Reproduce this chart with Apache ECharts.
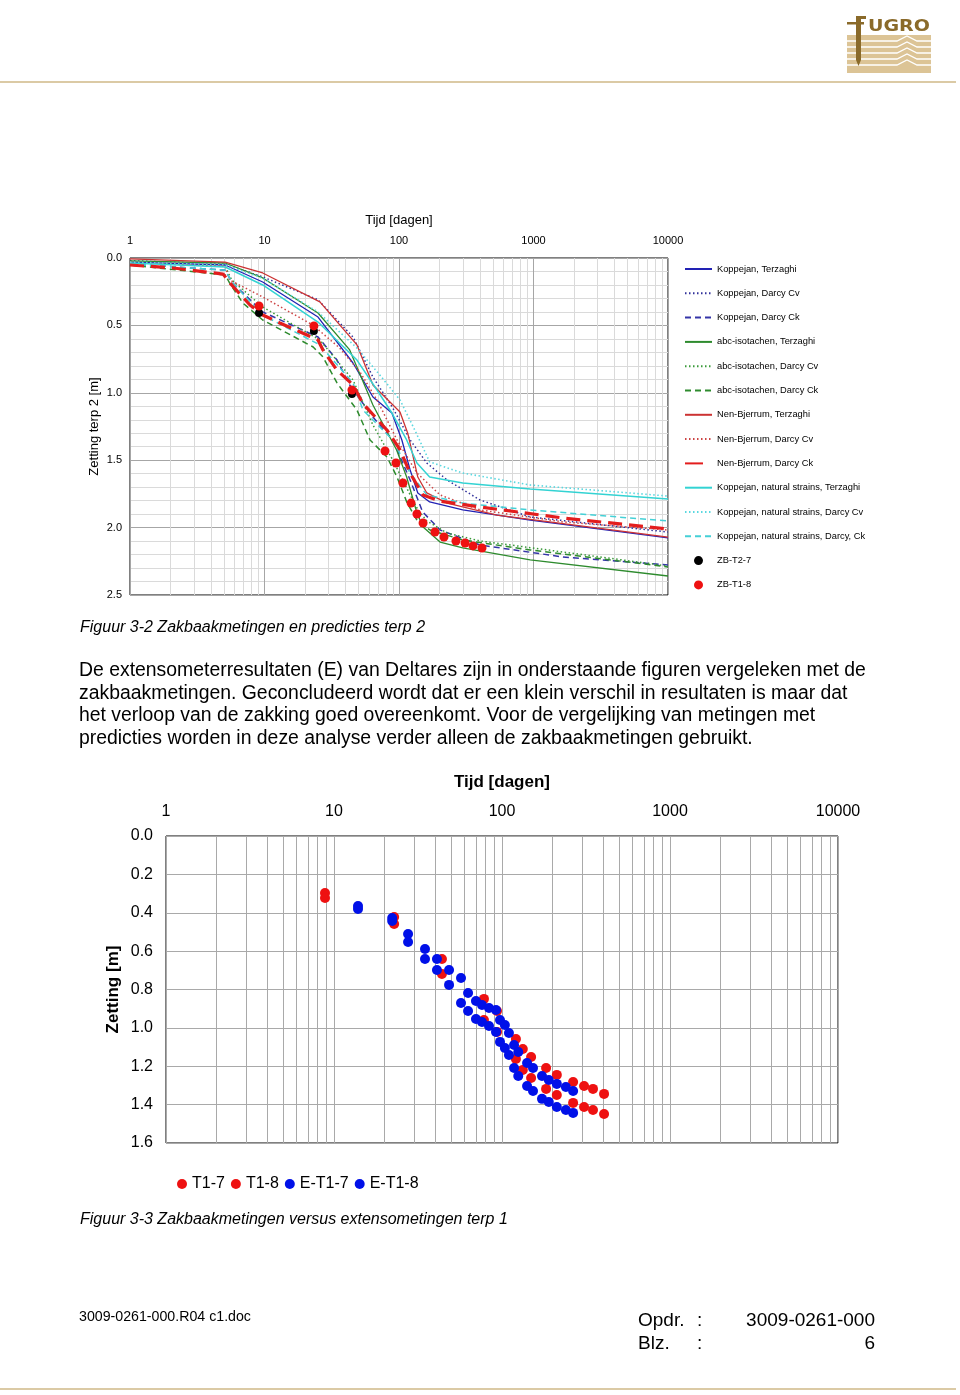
<!DOCTYPE html>
<html><head><meta charset="utf-8">
<script src="https://cdn.jsdelivr.net/npm/echarts@6/dist/echarts.min.js"></script>
<style>
html,body{margin:0;padding:0;background:#fff;}
#page{position:relative;width:960px;height:1395px;overflow:hidden;font-family:"Liberation Sans",Arial,sans-serif;color:#000;}
#chart{position:absolute;left:0;top:0;width:960px;height:1395px;}
.t{position:absolute;white-space:nowrap;}
.rule{position:absolute;left:0;width:956px;height:2px;background:#dbcaa5;}
</style></head>
<body><div id="page">
<div id="chart"></div>
<div class="rule" style="top:81px"></div>
<div class="rule" style="top:1388px"></div>
<svg style="position:absolute;left:845px;top:10px" width="90" height="66" viewBox="0 0 90 66">
  <rect x="2" y="25" width="84" height="38" fill="#dcc496"/>
  <g stroke="#fff" stroke-width="1.3" fill="none">
    <polyline points="2,31 52,31 62,26 72,31 86,31"/>
    <polyline points="2,37 52,37 62,32 72,37 86,37"/>
    <polyline points="2,43 52,43 62,38 72,43 86,43"/>
    <polyline points="2,49 52,49 62,44 72,49 86,49"/>
    <polyline points="2,55 52,55 62,50 72,55 86,55"/>
  </g>
  <rect x="2" y="12" width="14" height="2.5" fill="#8a6a2a"/>
  <rect x="11" y="6" width="5" height="44" fill="#8a6a2a"/>
  <rect x="11" y="6" width="10" height="3" fill="#8a6a2a"/>
  <rect x="11" y="12" width="8" height="2.5" fill="#8a6a2a"/>
  <polygon points="11,50 16,50 13.5,56" fill="#8a6a2a"/>
  <text x="23" y="21" font-family="DejaVu Sans, Arial" font-weight="bold" font-size="16" fill="#8a6a2a" textLength="62" lengthAdjust="spacingAndGlyphs">UGRO</text>
</svg>
<div class="t" style="left:80px;top:618px;font-size:16px;line-height:18px;font-style:italic;">Figuur 3-2 Zakbaakmetingen en predicties terp 2</div>
<div class="t" style="left:79px;top:658px;font-size:19.4px;line-height:22.7px;">De extensometerresultaten (E) van Deltares zijn in onderstaande figuren vergeleken met de<br>zakbaakmetingen. Geconcludeerd wordt dat er een klein verschil in resultaten is maar dat<br>het verloop van de zakking goed overeenkomt. Voor de vergelijking van metingen met<br>predicties worden in deze analyse verder alleen de zakbaakmetingen gebruikt.</div>
<div class="t" style="left:80px;top:1210px;font-size:16px;line-height:18px;font-style:italic;">Figuur 3-3 Zakbaakmetingen versus extensometingen terp 1</div>
<div class="t" style="left:79px;top:1308px;font-size:14.2px;line-height:16px;">3009-0261-000.R04 c1.doc</div>
<div class="t" style="left:638px;top:1308px;font-size:19px;line-height:23px;">Opdr.</div>
<div class="t" style="left:697px;top:1308px;font-size:19px;line-height:23px;">:</div>
<div class="t" style="left:700px;top:1308px;width:175px;text-align:right;font-size:19px;line-height:23px;">3009-0261-000</div>
<div class="t" style="left:638px;top:1331px;font-size:19px;line-height:23px;">Blz.</div>
<div class="t" style="left:697px;top:1331px;font-size:19px;line-height:23px;">:</div>
<div class="t" style="left:700px;top:1331px;width:175px;text-align:right;font-size:19px;line-height:23px;">6</div>
</div>
<script>
// ---------- Top chart (Figuur 3-2): [tijd (dagen), zetting (m)] ----------
const koppejanTerzaghi = [[1,0.03],[5.1,0.052],[9.7,0.178],[25,0.438],[45.5,0.779],[64,1.031],[88.6,1.15],[105,1.35],[121,1.573],[138,1.743],[169,1.81],[298,1.869],[945,1.944],[10000,2.077]];
const koppejanDarcyCv = [[1,0.02],[5.1,0.045],[9.7,0.14],[25,0.31],[45.5,0.586],[64,0.883],[90,1.113],[121,1.35],[161,1.521],[228,1.647],[400,1.795],[945,1.921],[10000,2.033]];
const koppejanDarcyCk = [[1,0.045],[5.1,0.09],[5.7,0.178],[9.7,0.4],[25,0.586],[34.6,0.757],[43,0.942],[64,1.18],[90,1.35],[121,1.647],[150,1.884],[202,2.018],[400,2.129],[1656,2.218],[10000,2.277]];
const abcTerzaghi = [[1,0.022],[5.1,0.037],[9.7,0.148],[25,0.408],[43,0.682],[64,1.091],[96,1.424],[114,1.625],[136,1.892],[151,1.996],[202,2.107],[298,2.151],[945,2.24],[10000,2.359]];
const abcDarcyCv = [[1,0.03],[5.1,0.06],[5.7,0.163],[9.7,0.364],[25.8,0.608],[45.5,0.905],[64,1.239],[90,1.499],[114,1.706],[136,1.855],[161,1.951],[228,2.04],[400,2.099],[10000,2.285]];
const abcDarcyCk = [[1,0.052],[5.1,0.126],[5.5,0.185],[6.9,0.334],[9.7,0.46],[23,0.66],[27.2,0.734],[34.6,0.927],[48.7,1.128],[60.9,1.35],[81.4,1.476],[96.7,1.625],[115,1.818],[136,1.944],[170,2.018],[298,2.092],[945,2.166],[10000,2.292]];
const nbTerzaghi = [[1,0.007],[5.1,0.03],[9.7,0.111],[25.8,0.326],[48.7,0.645],[64,0.942],[101.7,1.142],[116,1.298],[138,1.625],[161,1.743],[228,1.818],[535,1.907],[10000,2.07]];
const nbDarcyCv = [[1,0.03],[5.1,0.06],[5.5,0.163],[9.7,0.289],[22.9,0.497],[36.2,0.668],[51.3,0.846],[68.6,1.053],[96.7,1.35],[136,1.595],[202,1.758],[400,1.869],[1656,1.958],[10000,2.018]];
const nbDarcyCk = [[1,0.052],[2.09,0.074],[4.92,0.119],[5.53,0.185],[7.8,0.349],[9.7,0.423],[13,0.482],[25,0.608],[27.2,0.682],[34.5,0.831],[45.6,0.942],[53.6,1.076],[81.3,1.276],[101.9,1.424],[120.7,1.595],[150.6,1.758],[201,1.803],[399,1.847],[1660,1.929],[10000,2.01]];
const knsTerzaghi = [[1,0.037],[5.1,0.067],[9.7,0.2],[25,0.475],[48.7,0.757],[68.6,0.979],[88.6,1.15],[114,1.35],[136,1.521],[169,1.625],[298,1.669],[945,1.714],[10000,1.788]];
const knsDarcyCv = [[1,0.03],[5.1,0.05],[9.7,0.15],[25,0.4],[48.7,0.668],[72,0.868],[101.7,1.053],[131,1.276],[169,1.513],[298,1.595],[945,1.684],[10000,1.766]];
const knsDarcyCk = [[1,0.045],[5.1,0.09],[5.7,0.178],[9.7,0.423],[25.8,0.645],[45.5,0.927],[54,1.128],[90,1.35],[121,1.595],[161,1.758],[298,1.818],[945,1.869],[10000,1.951]];
const zbT27 = [[9.1,0.408],[23.3,0.542],[44.7,1.009]];
const zbT18 = [[9.1,0.356],[23.3,0.504],[44.7,0.979],[78.7,1.432],[95,1.521],[107,1.669],[123,1.818],[136,1.899],[151,1.966],[185,2.033],[216,2.07],[265,2.099],[310,2.114],[355,2.136],[414,2.151]];
const topNames = ['Koppejan, Terzaghi','Koppejan, Darcy Cv','Koppejan, Darcy Ck','abc-isotachen, Terzaghi','abc-isotachen, Darcy Cv','abc-isotachen, Darcy Ck','Nen-Bjerrum, Terzaghi','Nen-Bjerrum, Darcy Cv','Nen-Bjerrum, Darcy Ck','Koppejan, natural strains, Terzaghi','Koppejan, natural strains, Darcy Cv','Koppejan, natural strains, Darcy, Ck','ZB-T2-7','ZB-T1-8'];
const topYTicks = [0, 0.5, 1.0, 1.5, 2.0, 2.5];

// ---------- Bottom chart (Figuur 3-3) ----------
const zakbaakTijd = [8.84, 22.8, 43.9, 78.1, 93.4, 121, 133, 149, 183, 212, 265, 308, 348, 405];
const t17 = [0.297, 0.422, 0.641, 0.849, 0.912, 1.058, 1.110, 1.152, 1.209, 1.245, 1.282, 1.303, 1.318, 1.344];
const t18 = [0.323, 0.459, 0.719, 0.959, 1.021, 1.162, 1.219, 1.261, 1.318, 1.350, 1.391, 1.412, 1.428, 1.449];
const extTijd = [13.9, 22.2, 27.6, 34.8, 41.0, 48.4, 57.0, 62.8, 70.0, 76.0, 83.7, 92.1, 97.3, 104, 110, 118, 125, 141, 153, 173, 190, 212, 240, 265];
const eT17 = [0.365,0.427,0.511,0.589,0.641,0.698,0.740,0.818,0.860,0.881,0.896,0.907,0.959,0.985,1.027,1.089,1.126,1.183,1.209,1.251,1.272,1.292,1.308,1.329];
const eT18 = [0.380,0.443,0.552,0.641,0.698,0.776,0.870,0.912,0.954,0.969,0.990,1.021,1.073,1.105,1.141,1.209,1.251,1.303,1.329,1.370,1.386,1.412,1.428,1.443];
const bottomNames = ['T1-7','T1-8','E-T1-7','E-T1-8'];

const FONT = '"Liberation Sans", Arial, sans-serif';
const logMinor = [];
[1,10,100,1000].forEach(d => { for (let k = 2; k <= 9; k++) logMinor.push(k*d); });

function lineSeries(name, data, color, type, width, z) {
  return { name, type:'line', data, xAxisIndex:0, yAxisIndex:0, symbol:'none', showSymbol:false,
    lineStyle:{color, type, width}, itemStyle:{color}, z: z || 2, emphasis:{disabled:true}, animation:false };
}
const dot = [1.5, 2.5];
const topSeries = [
  lineSeries(topNames[0], koppejanTerzaghi, '#2222b4', 'solid', 1.3),
  lineSeries(topNames[1], koppejanDarcyCv, '#30309a', dot, 1.5),
  lineSeries(topNames[2], koppejanDarcyCk, '#3535a8', [6,4], 1.5),
  lineSeries(topNames[3], abcTerzaghi, '#2e8b2e', 'solid', 1.3),
  lineSeries(topNames[4], abcDarcyCv, '#3a9a3a', dot, 1.5),
  lineSeries(topNames[5], abcDarcyCk, '#2e8b2e', [6,4], 1.5),
  lineSeries(topNames[6], nbTerzaghi, '#cc3333', 'solid', 1.3),
  lineSeries(topNames[7], nbDarcyCv, '#cc4444', dot, 1.5),
  lineSeries(topNames[8], nbDarcyCk, '#e31d1d', [14,7], 3.2, 3),
  lineSeries(topNames[9], knsTerzaghi, '#33d3d3', 'solid', 1.5),
  lineSeries(topNames[10], knsDarcyCv, '#5ad8e0', dot, 1.6),
  lineSeries(topNames[11], knsDarcyCk, '#45d0d6', [6,4], 1.5),
  { name: topNames[12], type:'scatter', data: zbT27, xAxisIndex:0, yAxisIndex:0, symbolSize:8, itemStyle:{color:'#000', opacity:1}, z:4, animation:false },
  { name: topNames[13], type:'scatter', data: zbT18, xAxisIndex:0, yAxisIndex:0, symbolSize:9, itemStyle:{color:'#ee1111', opacity:1}, z:5, animation:false },
  { name:'_gridTop', type:'line', data:[], xAxisIndex:0, yAxisIndex:0, silent:true, animation:false,
    markLine:{ silent:true, symbol:['none','none'], label:{show:false}, z:1, animation:false, emphasis:{disabled:true},
      lineStyle:{color:'#dadada', type:'solid', width:1}, data: logMinor.map(v => ({xAxis:v})) } }
];
const bottomSeries = [
  { name: bottomNames[0], type:'scatter', xAxisIndex:1, yAxisIndex:1, data: zakbaakTijd.map((t,i)=>[t,t17[i]]), symbolSize:10, itemStyle:{color:'#ee1111', opacity:1}, z:2, animation:false },
  { name: bottomNames[1], type:'scatter', xAxisIndex:1, yAxisIndex:1, data: zakbaakTijd.map((t,i)=>[t,t18[i]]), symbolSize:10, itemStyle:{color:'#ee1111', opacity:1}, z:2, animation:false },
  { name: bottomNames[2], type:'scatter', xAxisIndex:1, yAxisIndex:1, data: extTijd.map((t,i)=>[t,eT17[i]]), symbolSize:10, itemStyle:{color:'#0010e8', opacity:1}, z:3, animation:false },
  { name: bottomNames[3], type:'scatter', xAxisIndex:1, yAxisIndex:1, data: extTijd.map((t,i)=>[t,eT18[i]]), symbolSize:10, itemStyle:{color:'#0010e8', opacity:1}, z:3, animation:false },
  { name:'_gridBottom', type:'line', data:[], xAxisIndex:1, yAxisIndex:1, silent:true, animation:false,
    markLine:{ silent:true, symbol:['none','none'], label:{show:false}, z:1, animation:false, emphasis:{disabled:true},
      lineStyle:{color:'#a9a9a9', type:'solid', width:1}, data: logMinor.map(v => ({xAxis:v})) } }
];

const hiddenSymbol = {opacity:0, color:'rgba(0,0,0,0)', borderWidth:0};
const chart = echarts.init(document.getElementById('chart'));
chart.setOption({
  animation:false,
  textStyle:{fontFamily:FONT, color:'#000'},
  grid:[
    {left:130, top:258, width:538, height:337, show:true, borderColor:'#000', borderWidth:1, backgroundColor:'#fff', z:0},
    {left:166, top:836, width:672, height:307, show:true, borderColor:'#000', borderWidth:1, backgroundColor:'#fff', z:0}
  ],
  xAxis:[
    { gridIndex:0, type:'log', logBase:10, min:1, max:10000, position:'top',
      name:'Tijd [dagen]', nameLocation:'middle', nameGap:31, nameTextStyle:{fontSize:13, color:'#000', fontFamily:FONT},
      axisLine:{show:false}, axisTick:{show:false},
      axisLabel:{fontSize:11, color:'#000', margin:12, fontFamily:FONT, formatter:v=>String(Math.round(v))},
      splitLine:{show:true, lineStyle:{color:'#a6a6a6', width:1}} },
    { gridIndex:1, type:'log', logBase:10, min:1, max:10000, position:'top',
      name:'Tijd [dagen]', nameLocation:'middle', nameGap:45, nameTextStyle:{fontSize:17, fontWeight:'bold', color:'#000', fontFamily:FONT},
      axisLine:{show:false}, axisTick:{show:false},
      axisLabel:{fontSize:16, color:'#000', margin:16, fontFamily:FONT, formatter:v=>String(Math.round(v))},
      splitLine:{show:true, lineStyle:{color:'#a9a9a9', width:1}} }
  ],
  yAxis:[
    { gridIndex:0, type:'value', min:topYTicks[0], max:topYTicks[topYTicks.length-1], interval:0.5, inverse:true,
      name:'Zetting terp 2 [m]', nameLocation:'middle', nameGap:29.5, nameRotate:90, nameMoveOverlap:false,
      nameTextStyle:{fontSize:13, color:'#000', fontFamily:FONT},
      axisLine:{show:false}, axisTick:{show:false},
      axisLabel:{fontSize:11, color:'#000', margin:8, fontFamily:FONT, formatter:v=>v.toFixed(1)},
      splitLine:{show:true, lineStyle:{color:'#a6a6a6', width:1}},
      minorTick:{show:false, splitNumber:5},
      minorSplitLine:{show:true, lineStyle:{color:'#dadada', width:1}} },
    { gridIndex:1, type:'value', min:0, max:1.6, interval:0.2, inverse:true,
      name:'Zetting [m]', nameLocation:'middle', nameGap:44.5, nameRotate:90, nameMoveOverlap:false,
      nameTextStyle:{fontSize:17, fontWeight:'bold', color:'#000', fontFamily:FONT},
      axisLine:{show:false}, axisTick:{show:false},
      axisLabel:{fontSize:16, color:'#000', margin:13, fontFamily:FONT, formatter:v=>v.toFixed(1)},
      splitLine:{show:true, lineStyle:{color:'#a9a9a9', width:1}} }
  ],
  legend:[
    { orient:'vertical', left:679, top:259, itemWidth:27, itemHeight:9, itemGap:14.3, selectedMode:false,
      textStyle:{fontSize:9.3, lineHeight:10, color:'#000', fontFamily:FONT},
      data: topNames.map((n,i) => i >= 12 ? {name:n, icon:'circle'}
        : (i === 8 ? {name:n, lineStyle:{type:[18,12]}, itemStyle:hiddenSymbol} : {name:n, itemStyle:hiddenSymbol})) },
    { orient:'horizontal', left:172, top:1171, itemWidth:10, itemHeight:10, itemGap:6, selectedMode:false, icon:'circle',
      textStyle:{fontSize:16, color:'#000', fontFamily:FONT},
      data: bottomNames }
  ],
  series: topSeries.concat(bottomSeries)
});
</script>
</body></html>
